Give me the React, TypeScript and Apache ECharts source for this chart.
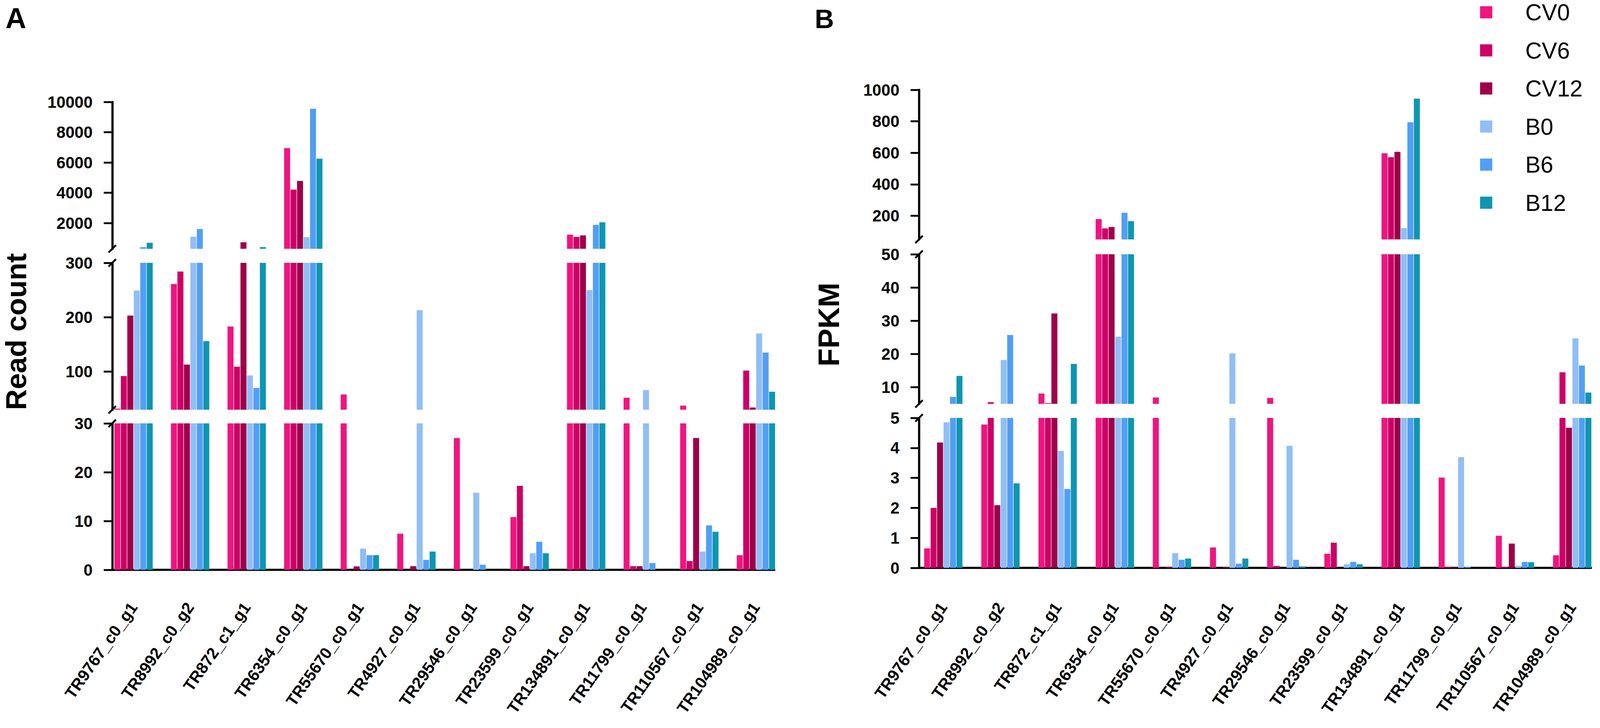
import React, { useEffect, useRef } from 'react';
import * as echarts from 'echarts';

// ---------- data ----------
const categories = [
  'TR9767_c0_g1', 'TR8992_c0_g2', 'TR872_c1_g1', 'TR6354_c0_g1', 'TR55670_c0_g1', 'TR4927_c0_g1',
  'TR29546_c0_g1', 'TR23599_c0_g1', 'TR134891_c0_g1', 'TR11799_c0_g1', 'TR110567_c0_g1', 'TR104989_c0_g1',
];
const seriesNames = ['CV0', 'CV6', 'CV12', 'B0', 'B6', 'B12'];
const seriesColors = ['#F01480', '#CC0066', '#9E004A', '#91BEF5', '#529EF5', '#0E96B0'];

// Panel A: read count
const readCV0 = [32, 261, 183, 6950, 58, 7.4, 27, 10.8, 1234, 52, 37.5, 3.0];
const readCV6 = [92, 284, 109, 4210, 0, 0, 0, 17.2, 1085, 0.75, 1.8, 102];
const readCV12 = [203, 113, 730, 4780, 0.7, 0.75, 0, 0.75, 1183, 0.75, 27, 34];
const readB0 = [249, 1100, 93, 1066, 4.35, 213, 15.8, 3.4, 250, 66, 3.74, 170];
const readB6 = [410, 1600, 70, 9550, 3.0, 2.04, 1.05, 5.75, 1880, 1.4, 9.1, 135];
const readB12 = [697, 156, 410, 6250, 3.0, 3.74, 0, 3.4, 2050, 0, 7.8, 63];

// Panel B: FPKM
const fpkmCV0 = [0.65, 4.78, 8.1, 179, 6.9, 0.68, 6.8, 0.47, 597, 3.01, 1.07, 0.42];
const fpkmCV6 = [2.0, 5.5, 5.2, 120, 0, 0, 0.066, 0.84, 572, 0.03, 0.03, 14.5];
const fpkmCV12 = [4.18, 2.09, 32.2, 129, 0.04, 0.035, 0, 0, 606, 0.02, 0.81, 4.67];
const fpkmB0 = [4.85, 18.2, 3.9, 25.2, 0.49, 20.2, 4.07, 0.12, 122, 3.69, 0.07, 24.7];
const fpkmB6 = [7.1, 25.7, 2.63, 219, 0.27, 0.14, 0.27, 0.2, 794, 0.04, 0.2, 16.5];
const fpkmB12 = [13.4, 2.82, 17.0, 166, 0.31, 0.31, 0.05, 0.12, 944, 0, 0.19, 8.4];

// broken-axis segments (top, middle, bottom) and their tick labels
const readSegments = [[300, 10000], [30, 300], [0, 30]];
const readTicks = [[2000, 4000, 6000, 8000, 10000], [100, 200, 300], [0, 10, 20, 30]];
const fpkmSegments = [[50, 1000], [5, 50], [0, 5]];
const fpkmTicks = [[200, 400, 600, 800, 1000], [10, 20, 30, 40, 50], [0, 1, 2, 3, 4, 5]];

const readData = [readCV0, readCV6, readCV12, readB0, readB6, readB12];
const fpkmData = [fpkmCV0, fpkmCV6, fpkmCV12, fpkmB0, fpkmB6, fpkmB12];

// ---------- layout (designed for a 4328 x 1864 page, scaled to the real viewport) ----------
const FONT = '"Liberation Sans", Arial, Helvetica, sans-serif';
const BASE_W = 4328;
const BASE_H = 1864;
const PANELS = [
  {
    data: readData, segments: readSegments, ticks: readTicks,
    gridLeft: 284.7, gridWidth: 1836.6, axisX: 303.6,
    tops: [261, 673, 1084], heights: [376, 376, 375], xLabelMargin: 88, xAxisEnd: 2097,
  },
  {
    data: fpkmData, segments: fpkmSegments, ticks: fpkmTicks,
    gridLeft: 2474.3, gridWidth: 1855.8, axisX: 2486,
    tops: [230, 651, 1070], heights: [383, 383, 384], xLabelMargin: 93, xAxisEnd: 4306,
  },
];

if (typeof document !== 'undefined') {
  document.body.style.margin = '0';
  document.body.style.overflow = 'hidden';
}

const clipTo = (vals: number[], lo: number, hi: number) =>
  vals.map((v) => (v > lo ? Math.min(v, hi) : null));

function buildOption(W: number, H: number) {
  const sx = W / BASE_W;
  const sy = H / BASE_H;
  const sf = Math.min(sx, sy);
  const X = (v: number) => v * sx;
  const Y = (v: number) => v * sy;
  const F = (v: number) => v * sf;

  const grid: any[] = [];
  const xAxis: any[] = [];
  const yAxis: any[] = [];
  const series: any[] = [];
  const graphic: any[] = [];

  PANELS.forEach((p) => {
    p.segments.forEach((seg, si) => {
      const gi = grid.length;
      const isBottom = si === p.segments.length - 1;
      grid.push({
        left: X(p.gridLeft), width: X(p.gridWidth), top: Y(p.tops[si]), height: Y(p.heights[si]),
        containLabel: false, outerBoundsMode: 'none',
      });
      xAxis.push({
        type: 'category', gridIndex: gi, data: categories, show: isBottom,
        axisLine: { show: false }, axisTick: { show: false },
        axisLabel: {
          show: isBottom, interval: 0, rotate: 55, margin: Y(p.xLabelMargin),
          fontSize: F(44), fontWeight: 'bold', color: '#000', fontFamily: FONT,
        },
        splitLine: { show: false },
      });
      yAxis.push({
        type: 'value', gridIndex: gi, min: seg[0], max: seg[1],
        offset: X(p.gridLeft - p.axisX),
        axisLine: { show: true, lineStyle: { color: '#000', width: F(6) } },
        axisTick: { show: true, length: X(23), lineStyle: { color: '#000', width: F(5) }, customValues: p.ticks[si] },
        axisLabel: {
          show: true, margin: X(53), fontSize: F(44), fontWeight: 'bold', color: '#000', fontFamily: FONT,
          customValues: p.ticks[si], formatter: (v: number) => String(v),
        },
        splitLine: { show: false },
      });
      p.data.forEach((vals, k) => {
        series.push({
          type: 'bar', name: seriesNames[k], xAxisIndex: gi, yAxisIndex: gi,
          data: clipTo(vals, seg[0], seg[1]),
          barWidth: X(16.2), barGap: '8%', clip: true, silent: true,
          itemStyle: { color: seriesColors[k] },
        });
      });
    });

    // x axis baseline
    const base = Y(p.tops[2] + p.heights[2]);
    graphic.push({
      type: 'line', silent: true,
      shape: { x1: X(p.axisX) - F(3), y1: base, x2: X(p.xAxisEnd), y2: base },
      style: { stroke: '#000', lineWidth: F(6) },
    });
    // break marks
    const breaks = [p.tops[0] + p.heights[0], p.tops[1], p.tops[1] + p.heights[1], p.tops[2]];
    breaks.forEach((by) => {
      graphic.push({
        type: 'line', silent: true,
        shape: { x1: X(p.axisX) - F(10), y1: Y(by) + F(10), x2: X(p.axisX) + F(10), y2: Y(by) - F(10) },
        style: { stroke: '#000', lineWidth: F(5) },
      });
    });
  });

  const txt = (text: string, x: number, y: number, size: number, rotation = 0) => ({
    type: 'text', x: X(x), y: Y(y), rotation, silent: true,
    style: {
      text, fill: '#000', fontSize: F(size), fontWeight: 'bold', fontFamily: FONT,
      align: 'center', verticalAlign: 'middle', textAlign: 'center', textVerticalAlign: 'middle',
    },
  });
  graphic.push(txt('A', 43, 46, 78));
  graphic.push(txt('B', 2230, 48, 72));
  graphic.push(txt('Read count', 44, 849, 78, Math.PI / 2));
  graphic.push(txt('FPKM', 2242, 831, 80, Math.PI / 2));

  return {
    animation: false,
    backgroundColor: '#fff',
    legend: {
      data: seriesNames, orient: 'vertical', left: X(4003.6), top: Y(2), padding: 0,
      itemWidth: F(33), itemHeight: F(33), itemGap: Y(38.5), icon: 'rect', selectedMode: false,
      textStyle: { fontSize: F(62), color: '#000', fontFamily: FONT, padding: [0, 0, 0, X(84)] },
    },
    grid, xAxis, yAxis, series, graphic,
  };
}

export default function App() {
  const ref = useRef<HTMLDivElement>(null);
  const W = typeof window !== 'undefined' ? window.innerWidth || BASE_W : BASE_W;
  const H = typeof window !== 'undefined' ? window.innerHeight || BASE_H : BASE_H;
  useEffect(() => {
    if (!ref.current) return;
    const chart = echarts.init(ref.current, undefined, { renderer: 'svg' });
    chart.setOption(buildOption(W, H) as any);
    return () => chart.dispose();
  }, []);
  return <div ref={ref} style={{ width: W, height: H }} />;
}
